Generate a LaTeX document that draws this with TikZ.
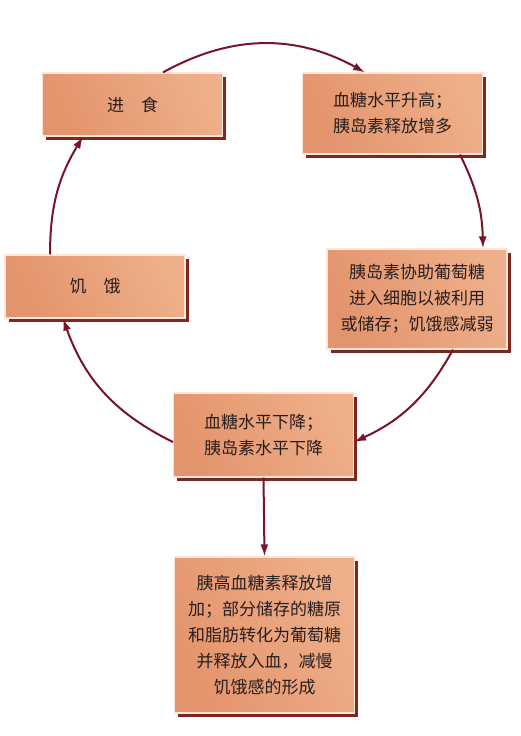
\documentclass[tikz,border=0pt]{standalone}
\usepackage{xcolor}
\usepackage{fontspec}
\usepackage{tikz}
\usetikzlibrary{arrows.meta, shadows}
\newfontfamily\cjk{Noto Sans CJK SC}
\definecolor{arrowred}{RGB}{120, 20, 40}
\definecolor{boxdeep}{RGB}{228, 148, 108}
\definecolor{boxpale}{RGB}{252, 228, 212}
\definecolor{boxmid}{RGB}{238, 175, 138}
\definecolor{boxshadow}{RGB}{125, 40, 30}
\definecolor{boxedge}{RGB}{252, 230, 218}
\definecolor{textgray}{RGB}{40, 30, 30}

\begin{document}
\begin{tikzpicture}[x=1pt, y=-1pt,
        hopbox/.style={draw=boxedge, line width=1.2pt, left color=boxdeep, middle color=boxpale, right color=boxmid,
            shading angle=115,
            drop shadow={shadow xshift=3.5pt, shadow yshift=-3.5pt, fill=boxshadow, opacity=1},
            minimum width=180pt, inner sep=0pt, align=center, text=textgray,
            font=\cjk\fontsize{17pt}{26pt}\selectfont},
        link/.style={draw=arrowred, line width=2pt, -{Latex[length=12pt, width=8pt]}}]
        \useasboundingbox (0,0) rectangle (520,736);
        \node[hopbox, minimum height=63pt] (jinshi) at (132.5,104.5) {进\hspace{1em}食};
        \node[hopbox, minimum height=81pt] (shenggao) at (392.5,113.5) {血糖水平升高；\\胰岛素释放增多};
        \node[hopbox, minimum height=100pt] (xishou) at (417,299) {胰岛素协助葡萄糖\\进入细胞以被利用\\或储存；饥饿感减弱};
        \node[hopbox, minimum height=63pt] (jie) at (95,286.5) {饥\hspace{1em}饿};
        \node[hopbox, minimum height=84pt] (xiajiang) at (263.5,435) {血糖水平下降；\\胰岛素水平下降};
        \node[hopbox, minimum height=156pt] (gaoxuetang) at (264.5,635) {胰高血糖素释放增\\加；部分储存的糖原\\和脂肪转化为葡萄糖\\并释放入血，减慢\\饥饿感的形成};

        \draw[link] ([xshift=30.5pt]jinshi.north) to[bend left=29] ([xshift=-27.5pt]shenggao.north);
        \draw[link] ([xshift=67.5pt]shenggao.south) to[bend left=12.5] ([xshift=66pt]xishou.north);
        \draw[link] ([xshift=36pt]xishou.south) to[bend left=18] ([yshift=-7pt]xiajiang.east);
        \draw[link] ([yshift=-7pt]xiajiang.west) to[bend left=22] ([xshift=-32pt]jie.south);
        \draw[link] ([xshift=-45pt]jie.north) to[bend left=15.5] ([xshift=-49.5pt]jinshi.south);
        \draw[link] (xiajiang.south) -- (gaoxuetang.north);
    \end{tikzpicture}
\end{document}
